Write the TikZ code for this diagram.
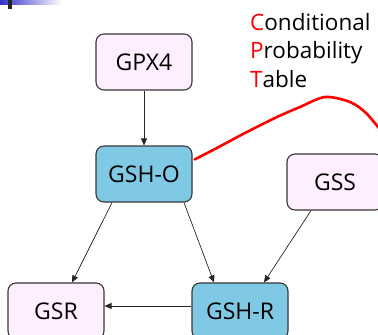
\documentclass[tikz,border=0pt]{standalone}
\usepackage{fontspec}
\setmainfont{Open Sans}
\usetikzlibrary{arrows.meta,calc}
\definecolor{boxblue}{RGB}{127,201,229}
\definecolor{boxpink}{RGB}{255,238,255}
\definecolor{edgegray}{RGB}{55,55,55}
\definecolor{barblue}{RGB}{50,50,200}
\begin{document}
\begin{tikzpicture}[x=1pt,y=-1pt,
  box/.style={draw=edgegray, line width=1.1pt, rounded corners=8pt, minimum width=96pt, minimum height=56pt, inner sep=0pt, font=\fontsize{23}{26}\selectfont},
  pinkbox/.style={box, fill=boxpink},
  bluebox/.style={box, fill=boxblue},
  link/.style={draw=black!85, line width=0.7pt, -{Triangle[length=7pt,width=6pt]}},
  cpt/.style={font=\fontsize{22.5}{28}\selectfont, anchor=base west, inner sep=0pt},
  handline/.style={draw=red, line width=2.6pt, line cap=round, line join=round}]
\useasboundingbox (0,0) rectangle (378,335);
\clip (0,0) rectangle (378,335);
% top-left decoration
\shade[left color=barblue, right color=white] (0,0) rectangle (62,4);
\fill[black!85] (8,0) rectangle (12,9);
% nodes
\node[pinkbox] (gpx) at (144,62) {GPX4};
\node[bluebox] (gsho) at (144,174) {GSH-O};
\node[pinkbox] (gss) at (335,182) {GSS};
\node[pinkbox] (gsr) at (56,311) {GSR};
\node[bluebox] (gshr) at (240,311) {GSH-R};
% CPT label
\node[cpt] (l1) at (250,30) {\textcolor{red}{C}onditional};
\node[cpt] (l2) at (250,58.5) {\textcolor{red}{P}robability};
\node[cpt] (l3) at (250,87) {\textcolor{red}{T}able};
% edges
\draw[link] (gpx.south) -- (gsho.north);
\draw[link] ([xshift=-32pt]gsho.south) -- ([xshift=16pt]gsr.north);
\draw[link] ([xshift=40pt]gsho.south) -- ([xshift=-26pt]gshr.north);
\draw[link] ([xshift=-24pt]gss.south) -- ([xshift=24pt]gshr.north);
\draw[link] ([yshift=5pt]gshr.west) -- ([yshift=5pt]gsr.east);
% red hand-drawn curve
\coordinate (cptstart) at ($(gsho.north east)+(2,14)$);
\coordinate (cptend) at (382,132);
\draw[handline] plot[smooth, tension=0.5] coordinates {(cptstart) (215,149) (245,133) (277,117) (300,107) (325,97) (350,102) (366,113) (cptend)};
\end{tikzpicture}
\end{document}
